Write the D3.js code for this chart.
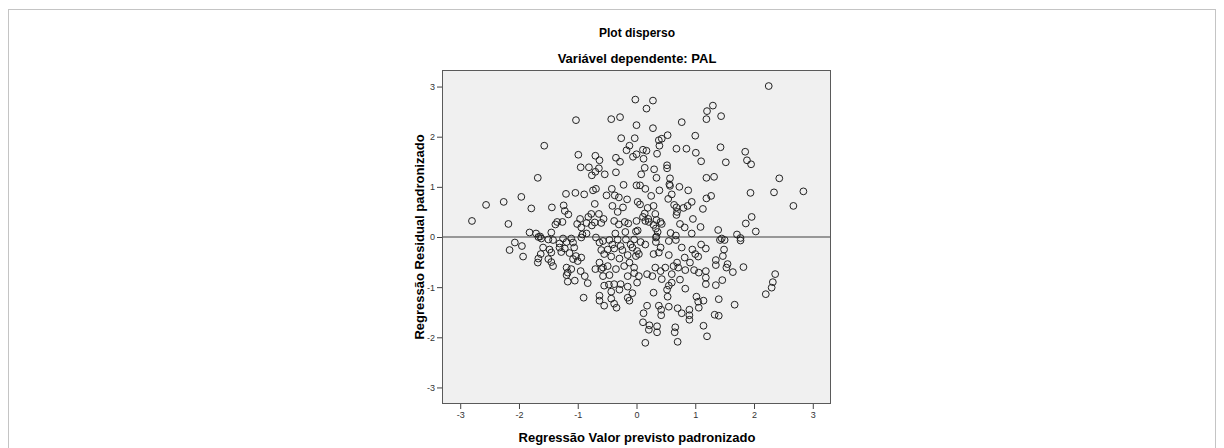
<!DOCTYPE html>
<html>
<head>
<meta charset="utf-8">
<script src="https://cdn.jsdelivr.net/npm/d3@7"></script>
<style>
  body { margin: 0; background: #fff; }
  svg text { font-family: Arial, "Liberation Sans", sans-serif; }
</style>
</head>
<body>
<div id="chart"></div>
<script>
// titles
const title = 'Plot disperso';
const subtitle = 'Variável dependente: PAL';
const xLabel = 'Regressão Valor previsto padronizado';
const yLabel = 'Regressão Residual padronizado';
const xTicks = [-3, -2, -1, 0, 1, 2, 3];
const yTicks = [-3, -2, -1, 0, 1, 2, 3];

// standardized predicted value (x) / standardized residual (y)
const predicted = [
  -1.68, -1.96, -2.26, -2.56, -1.79, -2.80, -2.18, -1.82, -1.71,
  -2.07, -1.95, -2.16, -1.93, -1.68, -1.67, -1.67,
  2.25, 1.85, 1.88, 1.95, 2.43, 1.94, 2.34, 2.84, 2.67, 1.96, 1.86, 2.03, 1.71, 1.77,
  1.77, 1.82, 1.64, 2.36, 2.32, 2.30, 2.20, 1.67,
  -0.02, -1.03, -0.43, -0.28, 0.00, -1.57, -0.26, -0.03, -0.12, -0.17, 0.00, -0.06,
  -0.99, -0.70, -0.63, -0.35, -0.28, -0.95, -0.81, -0.64, -0.70, -0.76, -0.54, -0.35,
  -0.22, 0.00, -0.74, -0.69, -0.42, -1.20, -1.04, -0.89, -0.51, -0.37, -0.30, -0.71,
  -0.16, 0.02, -1.44, -1.24, -0.41, -0.23, -1.22, -1.16, -0.64, -0.77, -0.32, -0.96,
  -0.82, -0.56, -0.38, -0.20, 0.00, -1.35, -1.26, -1.38, -1.01, -0.85, -0.71, -0.60,
  -0.76, -0.30, -0.14, -0.94, -1.45, -0.19, -0.36, -0.01, -0.92, -0.85, -1.64,
  0.28, 0.17, 1.30, 1.20, 1.19, 1.44, 0.77, 0.28, 1.00, 0.53, 0.43, 0.38, 0.39, 0.11,
  0.17, 0.68, 0.85, 1.43, 1.01, 0.35, 0.12, 1.10, 1.52, 0.52, 0.52, 0.14, 0.30, 0.08,
  0.57, 0.34, 1.19, 1.32, 0.56, 0.57, 0.06, 0.73, 0.15, 0.88, 0.39, 0.60, 0.25, 1.27,
  1.19, 0.94, 0.54, 0.06, 0.29, 0.64, 0.87, 0.19, 0.68, 0.80, 1.13, 0.69, 0.68, 0.14,
  0.32, 0.11, 0.20, 0.96, 0.15, 0.21, 0.34, 0.41, 0.43, 0.29, 0.74, 0.82, 1.09, 0.02,
  0.33, 0.36, 1.39, 0.58, 0.94, 0.67, 0.34, 1.45,
  -1.62, -1.50, -1.42, -1.25, -1.11, -0.94, -0.69, -0.57, -0.46, -0.32, -0.18, -0.04,
  -1.31, -1.19, -1.08, -0.63, -0.41, -0.27, -0.10, -1.59, -1.48, -1.31, -1.22, -1.06,
  -0.60, -0.49, -0.38, -0.24, -0.07, -1.45, -1.28, -1.14, -1.03, -0.55, -0.43, -0.29,
  -0.15, -0.01, -1.63, -1.50, -1.42, -1.45, -1.08, -1.00, -0.94, -0.63, -0.57, -0.60,
  -0.70, -0.49, -0.35, -0.21, -0.12, -0.04, -1.19, -1.17, -1.19, -1.11, -0.95, -0.88,
  -1.05, -1.17, -0.83, -0.57, -0.46, -0.15, -0.04, -0.55, -0.38, -0.27, -0.15, -0.29,
  -0.43, -0.07, -0.63, -0.63, -0.15, -0.12, -0.43, -0.38, -0.55, -0.34, -0.90, -0.47,
  0.07, 0.01, 0.04, 0.15, 0.33, 0.33, 0.41, 0.29, 0.38, 0.55, 0.67, 0.77, 0.55, 0.95,
  1.00, 1.05, 1.10, 1.18, 0.82, 0.91, 0.69, 0.63, 0.71, 0.32, 0.49, 0.41, 0.18, 0.27,
  0.04, 0.01, 0.43, 0.60, 0.83, 0.98, 1.06, 1.18, 1.18, 1.18, 0.60, 0.74, 0.55, 0.52,
  0.83, 0.29, 0.53, 1.02, 1.05, 1.14, 1.06, 0.18, 0.12, 0.38, 0.42, 0.42, 0.55, 0.70,
  0.77, 0.90, 0.90, 0.90, 1.33, 1.40, 1.40, 1.35, 1.46, 1.53, 1.55, 1.35, 1.35, 1.47,
  1.49, 1.42, 1.50, 0.11, 0.22, 0.21, 0.35, 0.35, 0.66, 0.65, 1.14, 1.20, 0.15, 0.70
];
const residual = [
  1.18, 0.80, 0.70, 0.64, 0.57, 0.32, 0.26, 0.09, 0.07,
  -0.11, -0.18, -0.26, -0.39, -0.51, -0.43, 0.00,
  3.01, 1.70, 1.53, 1.45, 1.17, 0.88, 0.89, 0.91, 0.62, 0.40, 0.27, 0.11, 0.05, -0.02,
  -0.07, -0.60, -0.70, -0.74, -0.90, -1.01, -1.14, -1.35,
  2.74, 2.33, 2.35, 2.39, 2.23, 1.82, 1.97, 1.97, 1.82, 1.73, 1.65, 1.60,
  1.64, 1.62, 1.53, 1.58, 1.50, 1.39, 1.39, 1.37, 1.30, 1.23, 1.25, 1.29,
  1.04, 1.03, 0.93, 0.96, 0.96, 0.86, 0.88, 0.85, 0.83, 0.83, 0.79, 0.66,
  0.75, 0.70, 0.59, 0.63, 0.62, 0.59, 0.52, 0.45, 0.46, 0.46, 0.50, 0.36,
  0.40, 0.36, 0.32, 0.30, 0.32, 0.30, 0.30, 0.25, 0.26, 0.28, 0.29, 0.28,
  0.23, 0.25, 0.27, 0.19, 0.09, 0.10, 0.07, 0.11, 0.05, 0.07, 0.01,
  2.72, 2.56, 2.62, 2.51, 2.35, 2.41, 2.29, 2.17, 2.02, 2.03, 1.96, 1.93, 1.82, 1.74,
  1.72, 1.76, 1.76, 1.79, 1.68, 1.66, 1.56, 1.51, 1.49, 1.43, 1.37, 1.38, 1.35, 1.25,
  1.17, 1.18, 1.18, 1.20, 1.05, 1.02, 1.03, 1.00, 0.96, 0.93, 0.93, 0.85, 0.82, 0.82,
  0.77, 0.70, 0.76, 0.65, 0.62, 0.64, 0.62, 0.58, 0.59, 0.58, 0.56, 0.50, 0.44, 0.47,
  0.46, 0.40, 0.36, 0.36, 0.32, 0.30, 0.34, 0.30, 0.26, 0.24, 0.26, 0.19, 0.20, 0.13,
  0.17, 0.10, 0.14, 0.08, 0.07, 0.03, 0.01, -0.03,
  -0.03, -0.05, -0.06, -0.03, -0.03, -0.01, -0.01, -0.08, -0.06, -0.05, -0.05, -0.05,
  -0.13, -0.10, -0.11, -0.11, -0.15, -0.18, -0.15, -0.21, -0.25, -0.21, -0.23, -0.21,
  -0.26, -0.25, -0.23, -0.26, -0.21, -0.31, -0.30, -0.32, -0.38, -0.34, -0.39, -0.43,
  -0.36, -0.38, -0.34, -0.44, -0.58, -0.50, -0.44, -0.48, -0.41, -0.51, -0.61, -0.64,
  -0.64, -0.58, -0.64, -0.58, -0.51, -0.61, -0.61, -0.71, -0.76, -0.64, -0.68, -0.78,
  -0.87, -0.89, -0.92, -0.78, -0.76, -0.78, -0.72, -0.97, -0.94, -0.94, -0.99, -1.05,
  -1.09, -1.12, -1.17, -1.27, -1.21, -1.27, -1.23, -1.33, -1.37, -1.41, -1.21, -0.95,
  -0.10, -0.28, -0.34, -0.15, -0.01, -0.10, -0.21, -0.34, -0.31, -0.08, -0.06, -0.21, -0.36, -0.25,
  -0.34, -0.39, -0.15, -0.23, -0.41, -0.51, -0.51, -0.58, -0.61, -0.61, -0.61, -0.68, -0.74, -0.78,
  -0.78, -0.91, -0.84, -0.74, -0.66, -0.66, -0.71, -0.68, -0.81, -0.94, -0.91, -0.85, -0.97, -1.05,
  -1.03, -1.11, -1.19, -1.19, -1.29, -1.27, -1.41, -1.37, -1.52, -1.37, -1.45, -1.56, -1.39, -1.42,
  -1.52, -1.45, -1.56, -1.65, -1.55, -1.57, -1.24, -0.96, -0.86, -0.61, -0.54, -0.56, -0.46, -0.38,
  -0.25, -0.06, -0.06, -1.70, -1.76, -1.85, -1.78, -1.90, -1.80, -1.90, -1.77, -1.98, -2.11, -2.09
];

const W = 1224, H = 448;
const plot = { left: 442, right: 831, top: 70, bottom: 404 };

const svg = d3.select('#chart').append('svg')
  .attr('width', W)
  .attr('height', H);

// outer viewer border
svg.append('rect')
  .attr('x', 8.5).attr('y', 9.5)
  .attr('width', 1207).attr('height', 460)
  .attr('fill', 'none')
  .attr('stroke', '#c4c4c4');

const x = d3.scaleLinear().domain([-3.31, 3.31]).range([plot.left, plot.right]);
const y = d3.scaleLinear().domain([-3.33, 3.33]).range([plot.bottom, plot.top]);

svg.append('rect')
  .attr('x', plot.left).attr('y', plot.top)
  .attr('width', plot.right - plot.left)
  .attr('height', plot.bottom - plot.top)
  .attr('fill', '#f0f0f0');

// reference line at residual 0
svg.append('line')
  .attr('x1', plot.left).attr('x2', plot.right)
  .attr('y1', y(0)).attr('y2', y(0))
  .attr('stroke', '#7a7a7a')
  .attr('stroke-width', 1.5);

const points = predicted.map((d, i) => ({ x: d, y: residual[i] }));

svg.append('g')
  .selectAll('circle')
  .data(points)
  .enter()
  .append('circle')
  .attr('cx', d => x(d.x))
  .attr('cy', d => y(d.y))
  .attr('r', 3.4)
  .attr('fill', 'none')
  .attr('stroke', '#222')
  .attr('stroke-width', 1);

svg.append('rect')
  .attr('x', plot.left + 0.5).attr('y', plot.top + 0.5)
  .attr('width', plot.right - plot.left - 1)
  .attr('height', plot.bottom - plot.top - 1)
  .attr('fill', 'none')
  .attr('stroke', '#5a5a5a');

const xAxis = svg.append('g')
  .attr('transform', `translate(0, ${plot.bottom})`)
  .call(d3.axisBottom(x).tickValues(xTicks).tickSize(5).tickPadding(3).tickFormat(d3.format('d')));
const yAxis = svg.append('g')
  .attr('transform', `translate(${plot.left}, 0)`)
  .call(d3.axisLeft(y).tickValues(yTicks).tickSize(5).tickPadding(2).tickFormat(d3.format('d')));

[xAxis, yAxis].forEach(g => {
  g.select('.domain').remove();
  g.selectAll('.tick line').attr('stroke', '#444');
  g.selectAll('.tick text')
    .style('font-family', 'Arial, "Liberation Sans", sans-serif')
    .style('font-size', '9px')
    .attr('fill', '#333');
});
// minus sign as plain hyphen like the original
svg.selectAll('.tick text').text(d => String(d));

svg.append('text')
  .attr('x', 637).attr('y', 37)
  .attr('text-anchor', 'middle')
  .style('font-size', '12px').style('font-weight', 'bold')
  .text(title);
svg.append('text')
  .attr('x', 637).attr('y', 63)
  .attr('text-anchor', 'middle')
  .style('font-size', '13px').style('font-weight', 'bold')
  .text(subtitle);

svg.append('text')
  .attr('x', 637).attr('y', 442)
  .attr('text-anchor', 'middle')
  .style('font-size', '13px').style('font-weight', 'bold')
  .text(xLabel);
svg.append('text')
  .attr('transform', `translate(424, ${y(0)}) rotate(-90)`)
  .attr('text-anchor', 'middle')
  .style('font-size', '13px').style('font-weight', 'bold')
  .text(yLabel);
</script>
</body>
</html>
